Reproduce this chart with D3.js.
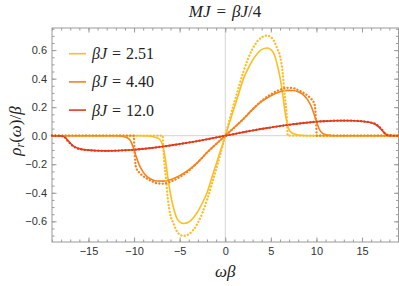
<!DOCTYPE html>
<html>
<head>
<meta charset="utf-8">
<script src="https://cdn.jsdelivr.net/npm/d3@7"></script>
<style>
  body { margin: 0; background: #fff; }
  svg { display: block; }
</style>
</head>
<body>
<svg id="chart"></svg>
<script>
// curve values (omega*beta, rho_r/beta)
const yellowSolidW = [-19, -9.5, -8.5, -8, -7.6, -7.2, -6.9, -6.6, -6.3, -6, -5.7, -5.2, -4.6, -4, -3.5, -3, -2.5, -2, -1.5, -1, -0.5, 0, 0.5, 1, 1.5, 2, 2.5, 3, 3.5, 4, 4.6, 5.2, 5.7, 6, 6.3, 6.6, 6.9, 7.2, 7.6, 8, 8.5, 9.5, 19];
const yellowSolidV = [0, 0, -0.002, -0.005, -0.012, -0.025, -0.06, -0.15, -0.29, -0.41, -0.5, -0.59, -0.615, -0.605, -0.575, -0.53, -0.47, -0.4, -0.3, -0.2, -0.1, 0, 0.1, 0.2, 0.3, 0.4, 0.47, 0.53, 0.575, 0.605, 0.615, 0.59, 0.5, 0.41, 0.29, 0.15, 0.06, 0.025, 0.012, 0.005, 0.002, 0, 0];

const yellowDotW = [-19, -6.85, -6.78, -6.7, -6.5, -6.3, -6, -5.7, -5.2, -4.6, -4, -3.5, -3, -2.5, -2, -1.5, -1, -0.5, 0, 0.5, 1, 1.5, 2, 2.5, 3, 3.5, 4, 4.6, 5.2, 5.7, 6, 6.3, 6.5, 6.7, 6.78, 6.85, 19];
const yellowDotV = [0, 0, -0.1, -0.17, -0.3, -0.44, -0.56, -0.61, -0.68, -0.702, -0.69, -0.66, -0.61, -0.54, -0.45, -0.345, -0.235, -0.12, 0, 0.12, 0.235, 0.345, 0.45, 0.54, 0.61, 0.66, 0.69, 0.702, 0.68, 0.61, 0.56, 0.44, 0.3, 0.17, 0.1, 0, 0];

const orangeSolidW = [-19, -12, -11.3, -10.8, -10.4, -10.1, -9.8, -9.4, -9, -8.5, -8, -7.5, -6.8, -6, -5, -4, -3, -2, -1, 0, 1, 2, 3, 4, 5, 6, 6.8, 7.5, 8, 8.5, 9, 9.4, 9.8, 10.1, 10.4, 10.8, 11.3, 12, 19];
const orangeSolidV = [0, 0, -0.004, -0.012, -0.035, -0.08, -0.14, -0.21, -0.255, -0.29, -0.308, -0.317, -0.318, -0.308, -0.28, -0.24, -0.185, -0.118, -0.058, 0, 0.058, 0.118, 0.185, 0.24, 0.28, 0.308, 0.318, 0.317, 0.308, 0.29, 0.255, 0.21, 0.14, 0.08, 0.035, 0.012, 0.004, 0, 0];

const orangeDotW = [-19, -10.05, -9.95, -9.85, -9.7, -9.4, -9, -8.5, -8, -7.5, -6.8, -6, -5, -4, -3, -2, -1, 0, 1, 2, 3, 4, 5, 6, 6.8, 7.5, 8, 8.5, 9, 9.4, 9.7, 9.85, 9.95, 10.05, 19];
const orangeDotV = [0, 0, -0.1, -0.2, -0.235, -0.26, -0.283, -0.304, -0.32, -0.333, -0.336, -0.322, -0.29, -0.245, -0.185, -0.118, -0.058, 0, 0.058, 0.118, 0.185, 0.245, 0.29, 0.322, 0.336, 0.333, 0.32, 0.304, 0.283, 0.26, 0.235, 0.2, 0.1, 0, 0];

const redW = [-19, -18, -17.6, -17.3, -16.9, -16.4, -15.8, -15, -14, -13, -12, -11, -10, -9, -8, -7, -6, -5, -4, -3, -2, -1, 0, 1, 2, 3, 4, 5, 6, 7, 8, 9, 10, 11, 12, 13, 14, 15, 15.8, 16.4, 16.9, 17.3, 17.6, 18, 19];
const redSolidV = [0, -0.002, -0.01, -0.03, -0.058, -0.082, -0.094, -0.101, -0.105, -0.106, -0.105, -0.102, -0.098, -0.092, -0.085, -0.077, -0.068, -0.058, -0.048, -0.037, -0.025, -0.012, 0, 0.012, 0.025, 0.037, 0.048, 0.058, 0.068, 0.077, 0.085, 0.092, 0.098, 0.102, 0.105, 0.106, 0.105, 0.101, 0.094, 0.082, 0.058, 0.03, 0.01, 0.002, 0];
const redDotV = [0, -0.002, -0.011, -0.034, -0.062, -0.084, -0.095, -0.101, -0.105, -0.106, -0.105, -0.102, -0.098, -0.092, -0.085, -0.077, -0.068, -0.058, -0.048, -0.037, -0.025, -0.012, 0, 0.012, 0.025, 0.037, 0.048, 0.058, 0.068, 0.077, 0.085, 0.092, 0.098, 0.102, 0.105, 0.106, 0.105, 0.101, 0.095, 0.084, 0.062, 0.034, 0.011, 0.002, 0];

const legendLabels = ["2.51", "4.40", "12.0"];
const colors = ["#fdbd24", "#f6801c", "#e03c1c"];
const xTicks = [-15, -10, -5, 0, 5, 10, 15];
const yTicks = [-0.6, -0.4, -0.2, 0, 0.2, 0.4, 0.6];

const width = 399;
const height = 286;
const margin = {top: 28, bottom: 44, left: 52, right: 0.5};

let svg = d3.select("#chart").attr("width", width).attr("height", height);

let xScale = d3.scaleLinear().domain([-19, 19]).range([margin.left, width - margin.right]);
let yScale = d3.scaleLinear().domain([-0.745, 0.755]).range([height - margin.bottom, margin.top]);

let x0 = margin.left, x1 = width - margin.right;
let y0 = height - margin.bottom, y1 = margin.top;

// light axes through origin
svg.append("line").attr("x1", x0).attr("x2", x1).attr("y1", yScale(0)).attr("y2", yScale(0))
  .attr("stroke", "#d4d4d4").attr("stroke-width", 1);
svg.append("line").attr("x1", xScale(0)).attr("x2", xScale(0)).attr("y1", y0).attr("y2", y1)
  .attr("stroke", "#d4d4d4").attr("stroke-width", 1);

// frame ticks (inward), Mathematica style
let minorX = d3.range(-19, 20, 1);
let minorY = d3.range(-0.7, 0.76, 0.05);
let frameColor = "#9a9a9a";

function styleAxis(g) {
  g.select(".domain").remove();
  g.selectAll(".tick line").attr("stroke", frameColor);
  g.selectAll(".tick text").attr("fill", "#333")
    .style("font-family", "'Liberation Sans', Arial, sans-serif").style("font-size", "11px");
}

svg.append("g").attr("transform", `translate(0, ${y0})`)
  .call(d3.axisBottom(xScale).tickValues(minorX).tickSize(-2.5).tickFormat(""))
  .call(styleAxis);
svg.append("g").attr("transform", `translate(0, ${y0})`)
  .call(d3.axisBottom(xScale).tickValues(xTicks).tickSize(-4.5).tickPadding(5.5).tickFormat(d3.format("d")))
  .call(styleAxis);
svg.append("g").attr("transform", `translate(0, ${y1})`)
  .call(d3.axisTop(xScale).tickValues(minorX).tickSize(-2.5).tickFormat(""))
  .call(styleAxis);
svg.append("g").attr("transform", `translate(0, ${y1})`)
  .call(d3.axisTop(xScale).tickValues(xTicks).tickSize(-4.5).tickFormat(""))
  .call(styleAxis);

svg.append("g").attr("transform", `translate(${x0}, 0)`)
  .call(d3.axisLeft(yScale).tickValues(minorY).tickSize(-2.5).tickFormat(""))
  .call(styleAxis);
svg.append("g").attr("transform", `translate(${x0}, 0)`)
  .call(d3.axisLeft(yScale).tickValues(yTicks).tickSize(-4.5).tickPadding(5).tickFormat(d3.format(".1f")))
  .call(styleAxis);
svg.append("g").attr("transform", `translate(${x1}, 0)`)
  .call(d3.axisRight(yScale).tickValues(minorY).tickSize(-2.5).tickFormat(""))
  .call(styleAxis);
svg.append("g").attr("transform", `translate(${x1}, 0)`)
  .call(d3.axisRight(yScale).tickValues(yTicks).tickSize(-4.5).tickFormat(""))
  .call(styleAxis);

svg.append("rect").attr("x", x0).attr("y", y1).attr("width", x1 - x0).attr("height", y0 - y1)
  .attr("fill", "none").attr("stroke", frameColor).attr("stroke-width", 1);

// curves
let line = d3.line().x(d => xScale(d[0])).y(d => yScale(d[1])).curve(d3.curveMonotoneX);
let plot = svg.append("g");

let series = [
  {w: yellowSolidW, v: yellowSolidV, c: colors[0], dot: false},
  {w: orangeSolidW, v: orangeSolidV, c: colors[1], dot: false},
  {w: redW, v: redSolidV, c: colors[2], dot: false},
  {w: yellowDotW, v: yellowDotV, c: colors[0], dot: true},
  {w: orangeDotW, v: orangeDotV, c: colors[1], dot: true},
  {w: redW, v: redDotV, c: colors[2], dot: true}
];

series.forEach(s => {
  let pts = s.w.map((w, i) => [w, s.v[i]]);
  plot.append("path")
    .attr("d", line(pts))
    .attr("fill", "none")
    .attr("stroke", s.c)
    .attr("stroke-width", s.dot ? 2.3 : 1.6)
    .attr("stroke-dasharray", s.dot ? "0.1,3.3" : null)
    .attr("stroke-linecap", s.dot ? "round" : "butt");
});

// legend
let serif = "'Liberation Serif', 'Times New Roman', serif";
let legend = svg.append("g");
legendLabels.forEach((lab, i) => {
  let ly = 53.7 + i * 28.2;
  legend.append("line").attr("x1", 69).attr("x2", 86).attr("y1", ly).attr("y2", ly)
    .attr("stroke", colors[i]).attr("stroke-width", 1.6);
  let t = legend.append("text").attr("x", 92).attr("y", ly + 5.5)
    .style("font-family", serif).style("font-size", "16px").attr("fill", "#222");
  t.append("tspan").style("font-style", "italic").text("βJ");
  t.append("tspan").attr("dx", 5).text("=");
  t.append("tspan").attr("dx", 5).text(lab);
});

// title
let title = svg.append("text").attr("x", 225).attr("y", 17).attr("text-anchor", "middle")
  .style("font-family", serif).style("font-size", "17px").attr("fill", "#222");
title.append("tspan").style("font-style", "italic").text("MJ");
title.append("tspan").attr("dx", 6).text("=");
title.append("tspan").attr("dx", 6).style("font-style", "italic").text("βJ");
title.append("tspan").text("/4");

// axis labels
let xl = svg.append("text").attr("x", xScale(0)).attr("y", 277).attr("text-anchor", "middle")
  .style("font-family", serif).style("font-size", "17px").style("font-style", "italic").attr("fill", "#222")
  .text("ωβ");

let yl = svg.append("text").attr("transform", "translate(21, 131) rotate(-90)").attr("text-anchor", "middle")
  .style("font-family", serif).style("font-size", "17px").attr("fill", "#222");
yl.append("tspan").style("font-style", "italic").text("ρ");
yl.append("tspan").style("font-style", "italic").style("font-size", "12px").attr("dy", 3).text("r");
yl.append("tspan").attr("dy", -3).text("(");
yl.append("tspan").style("font-style", "italic").text("ω");
yl.append("tspan").text(")/");
yl.append("tspan").style("font-style", "italic").text("β");
</script>
</body>
</html>
